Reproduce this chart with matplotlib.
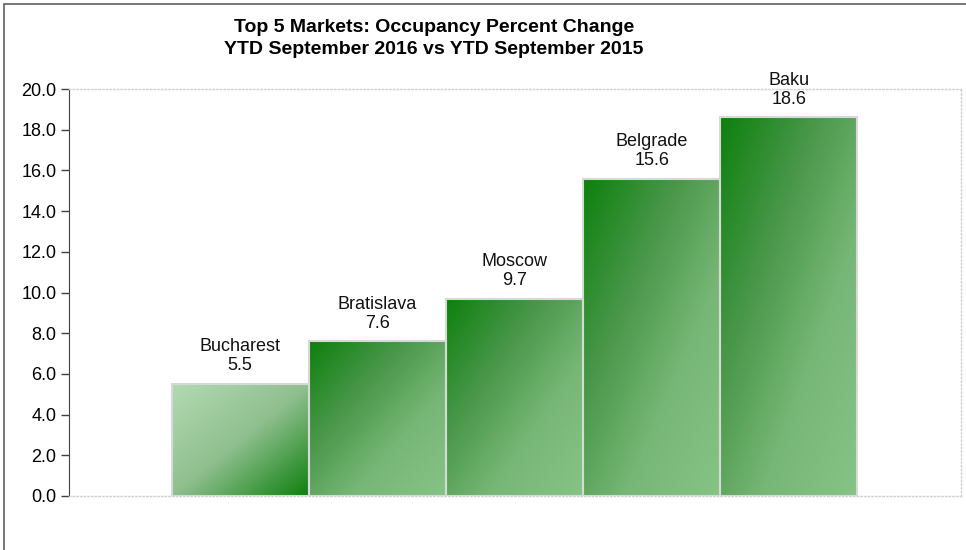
import matplotlib
matplotlib.use('Agg')
import matplotlib.pyplot as plt
from matplotlib.colors import LinearSegmentedColormap
from matplotlib.patches import Rectangle
import numpy as np

plt.rcParams['font.family'] = ['Liberation Sans', 'DejaVu Sans']

markets = ['Bucharest', 'Bratislava', 'Moscow', 'Belgrade', 'Baku']
change = [5.5, 7.6, 9.7, 15.6, 18.6]
title_lines = ['Top 5 Markets: Occupancy Percent Change',
               'YTD September 2016 vs YTD September 2015']

# light top-left -> dark bottom-right for the first bar, reversed for the others
first_cm = LinearSegmentedColormap.from_list('first', ['#b2dab2', '#8fbf8f', '#0e800e'])
rest_cm = LinearSegmentedColormap.from_list(
    'rest', [(0, '#0e800e'), (0.35, '#4a984a'), (0.65, '#76b676'), (1, '#86c486')])

fig = plt.figure(figsize=(9.66, 5.5), dpi=100)
ax = fig.add_axes([69 / 966, 1 - 496 / 550, (961 - 69) / 966, (496 - 89) / 550])

# outer chart border
fig.patches.append(Rectangle((4 / 966, -0.1), 1.1, (550 - 4) / 550 + 0.1,
                             transform=fig.transFigure, fill=False,
                             edgecolor='#606060', linewidth=1.2))

u, v = np.meshgrid(np.linspace(0, 1, 64), np.linspace(1, 0, 64))
grad = (u + (1 - v)) / 2

x = np.arange(len(markets))
bars = ax.bar(x, change, width=1.0, color='none', edgecolor='#d8d8d8',
              linewidth=1.5, zorder=3)
for i, b in enumerate(bars):
    cmap = first_cm if i == 0 else rest_cm
    ax.imshow(grad, cmap=cmap, aspect='auto', zorder=2,
              extent=[b.get_x(), b.get_x() + b.get_width(), 0, b.get_height()])
    ax.annotate(f'{markets[i]}\n{change[i]:.1f}', (x[i], change[i]),
                xytext=(0, 7), textcoords='offset points', ha='center',
                va='bottom', fontsize=13, linespacing=1.15, color='#111111')

ax.set_xlim(-1.248, len(markets) - 1 + 1.255)
ax.set_ylim(0, 20)
ax.set_yticks(np.arange(0, 21, 2))
ax.set_yticklabels([f'{t:.1f}' for t in np.arange(0, 21, 2)], fontsize=13)
ax.set_xticks([])
ax.tick_params(axis='y', length=6, width=1, color='#404040', pad=3)

ax.spines['left'].set_color('#404040')
for side in ['top', 'right', 'bottom']:
    ax.spines[side].set_color('#d0d0d0')
    ax.spines[side].set_linestyle(':')
    ax.spines[side].set_linewidth(1)

fig.text(434 / 966, 1 - 28 / 550, title_lines[0], ha='center', va='center',
         fontsize=14, fontweight='bold')
fig.text(434 / 966, 1 - 50 / 550, title_lines[1], ha='center', va='center',
         fontsize=14, fontweight='bold')

fig.savefig('out.png', dpi=100)
